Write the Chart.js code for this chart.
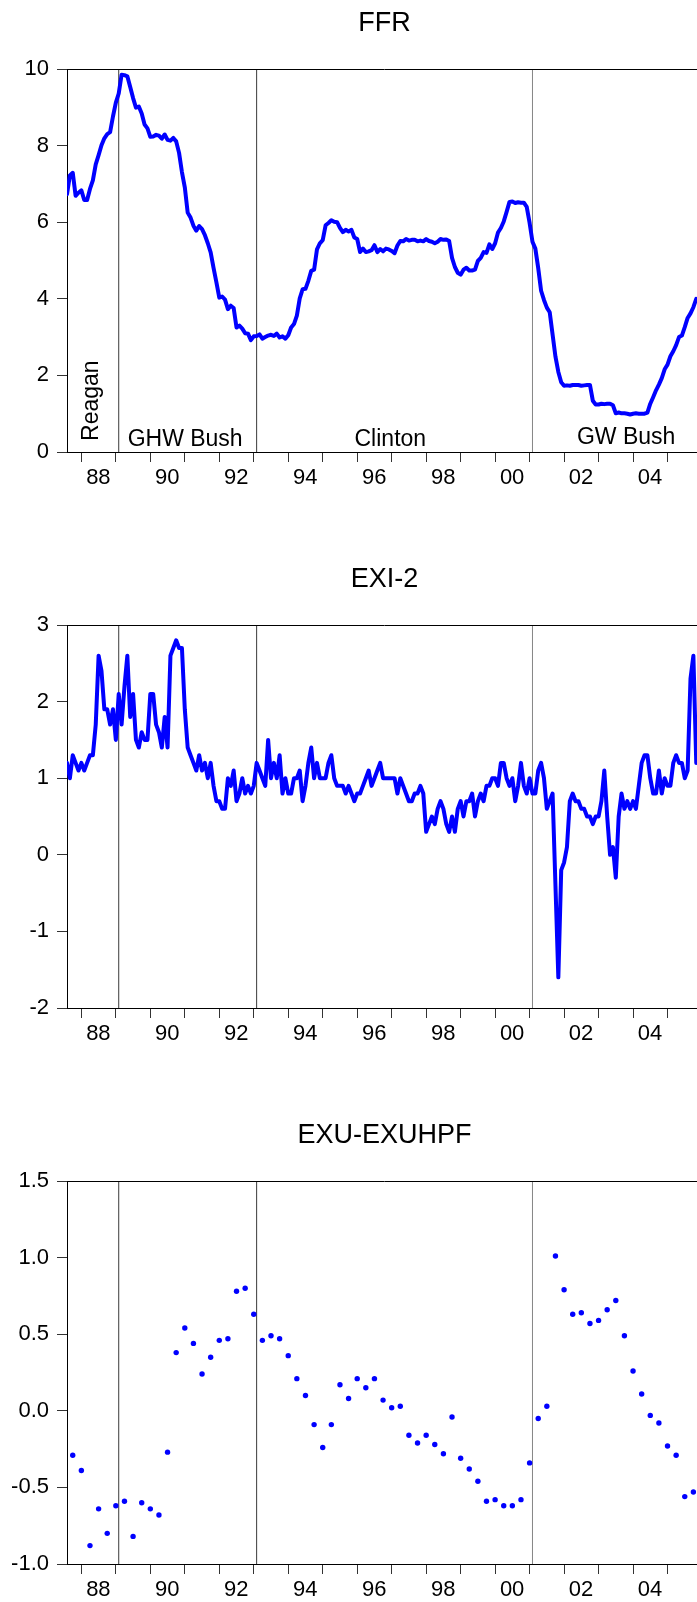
<!DOCTYPE html>
<html>
<head>
<meta charset="utf-8">
<script src="https://cdn.jsdelivr.net/npm/chart.js@4.4.0/dist/chart.umd.min.js"></script>
<style>
  html, body { margin: 0; padding: 0; background: #fff; width: 697px; height: 1602px; overflow: hidden; }
  .panel { position: relative; width: 697px; overflow: hidden; }
  .panel h2 {
    position: absolute; left: 67px; width: 635px; top: 6px; margin: 0;
    font: normal 27px/32px "Liberation Sans", Arial, sans-serif;
    text-align: center; color: #000;
  }
  canvas { display: block; }
</style>
</head>
<body>
<div class="panel" style="height:556px"><h2>FFR</h2><canvas id="ffr" width="712" height="556"></canvas></div>
<div class="panel" style="height:556px"><h2>EXI-2</h2><canvas id="exi" width="712" height="556"></canvas></div>
<div class="panel" style="height:490px"><h2>EXU-EXUHPF</h2><canvas id="exu" width="712" height="490"></canvas></div>
<script>
// monthly series start Aug 1987, quarterly series start 1987Q4
const START = 1987 + 7 / 12;
const END = 2006;            // Jan 2006, right edge of the frame
const Q_START = 1987.75;

const YEAR_TICKS = [1988, 1989, 1990, 1991, 1992, 1993, 1994, 1995, 1996,
                    1997, 1998, 1999, 2000, 2001, 2002, 2003, 2004, 2005];
// first month of each new administration
const PRESIDENT_CHANGES = [1989 + 1 / 12, 1993 + 1 / 12, 2001 + 1 / 12];
const CHANGE_COLORS = ['#3a3a3a', '#3a3a3a', '#858585'];
const ERA_NAMES = ['Reagan', 'GHW Bush', 'Clinton', 'GW Bush'];

const FFR_TICKS = [0, 2, 4, 6, 8, 10];
const EXI_TICKS = [-2, -1, 0, 1, 2, 3];
const EXU_TICKS = [-1, -0.5, 0, 0.5, 1, 1.5];

// Aug 1987 .. Nov 2005
const FFR = [
  6.73, 7.22, 7.29, 6.69, 6.77,
  6.83, 6.58, 6.58, 6.87, 7.09, 7.51, 7.75, 8.01, 8.19, 8.30, 8.35, 8.76,
  9.12, 9.36, 9.85, 9.84, 9.81, 9.53, 9.24, 8.99, 9.02, 8.84, 8.55, 8.45,
  8.23, 8.24, 8.28, 8.26, 8.18, 8.29, 8.15, 8.13, 8.20, 8.11, 7.81, 7.31,
  6.91, 6.25, 6.12, 5.91, 5.78, 5.90, 5.82, 5.66, 5.45, 5.21, 4.81, 4.43,
  4.03, 4.06, 3.98, 3.73, 3.82, 3.76, 3.25, 3.30, 3.22, 3.10, 3.09, 2.92,
  3.02, 3.03, 3.07, 2.96, 3.00, 3.04, 3.06, 3.03, 3.09, 2.99, 3.02, 2.96,
  3.05, 3.25, 3.34, 3.56, 4.01, 4.25, 4.26, 4.47, 4.73, 4.76, 5.29, 5.45,
  5.53, 5.92, 5.98, 6.05, 6.01, 6.00, 5.85, 5.74, 5.80, 5.76, 5.80, 5.60,
  5.56, 5.22, 5.31, 5.22, 5.24, 5.27, 5.40, 5.22, 5.30, 5.24, 5.31, 5.29,
  5.25, 5.19, 5.39, 5.51, 5.50, 5.56, 5.52, 5.54, 5.54, 5.50, 5.52, 5.50,
  5.56, 5.51, 5.49, 5.45, 5.49, 5.56, 5.54, 5.55, 5.51, 5.07, 4.83, 4.68,
  4.63, 4.76, 4.81, 4.74, 4.74, 4.76, 4.99, 5.07, 5.22, 5.20, 5.42, 5.30,
  5.45, 5.73, 5.85, 6.02, 6.27, 6.53, 6.54, 6.50, 6.52, 6.51, 6.51, 6.40,
  5.98, 5.49, 5.31, 4.80, 4.21, 3.97, 3.77, 3.65, 3.07, 2.49, 2.09, 1.82,
  1.73, 1.74, 1.73, 1.75, 1.75, 1.75, 1.73, 1.74, 1.75, 1.75, 1.34, 1.24,
  1.24, 1.26, 1.25, 1.26, 1.26, 1.22, 1.01, 1.03, 1.01, 1.01, 1.00, 0.98,
  1.00, 1.01, 1.00, 1.00, 1.00, 1.03, 1.26, 1.43, 1.61, 1.76, 1.93, 2.16,
  2.28, 2.50, 2.63, 2.79, 3.00, 3.04, 3.26, 3.50, 3.62, 3.78, 4.00
];

// Aug 1987 .. Nov 2005
const EXI2 = [
  1.2, 1.0, 1.3, 1.2, 1.1, 1.2, 1.1, 1.2, 1.3, 1.3,
  1.7, 2.6, 2.4, 1.9, 1.9, 1.7, 1.9, 1.5, 2.1, 1.7,
  2.2, 2.6, 1.8, 2.1, 1.5, 1.4, 1.6, 1.5, 1.5, 2.1,
  2.1, 1.7, 1.6, 1.4, 1.8, 1.4, 2.6, 2.7, 2.8, 2.7,
  2.7, 1.9, 1.4, 1.3, 1.2, 1.1, 1.3, 1.1, 1.2, 1.0,
  1.2, 0.9, 0.7, 0.7, 0.6, 0.6, 1.0, 0.9, 1.1, 0.7,
  0.8, 1.0, 0.8, 0.9, 0.8, 0.9, 1.2, 1.1, 1.0, 0.9,
  1.5, 1.0, 1.2, 1.0, 1.3, 0.8, 1.0, 0.8, 0.8, 1.0,
  1.0, 1.1, 0.7, 0.9, 1.2, 1.4, 1.0, 1.2, 1.0, 1.0,
  1.0, 1.2, 1.3, 1.0, 0.9, 0.9, 0.9, 0.8, 0.9, 0.8,
  0.7, 0.8, 0.8, 0.9, 1.0, 1.1, 0.9, 1.0, 1.1, 1.2,
  1.0, 1.0, 1.0, 1.0, 1.0, 0.8, 1.0, 0.9, 0.8, 0.7,
  0.7, 0.8, 0.8, 0.9, 0.8, 0.3, 0.4, 0.5, 0.4, 0.6,
  0.7, 0.6, 0.4, 0.3, 0.5, 0.3, 0.6, 0.7, 0.5, 0.7,
  0.7, 0.8, 0.5, 0.7, 0.8, 0.7, 0.9, 0.9, 1.0, 1.0,
  0.9, 1.2, 1.2, 1.0, 0.9, 1.0, 0.7, 0.9, 1.2, 0.9,
  0.8, 1.0, 0.8, 0.8, 1.1, 1.2, 1.0, 0.6, 0.7, 0.8,
  -0.4, -1.6, -0.2, -0.1, 0.1, 0.7, 0.8, 0.7, 0.7, 0.6,
  0.6, 0.5, 0.5, 0.4, 0.5, 0.5, 0.7, 1.1, 0.5, 0.0,
  0.1, -0.3, 0.5, 0.8, 0.6, 0.7, 0.6, 0.7, 0.6, 0.9,
  1.2, 1.3, 1.3, 1.0, 0.8, 0.8, 1.1, 0.8, 1.0, 0.9,
  0.9, 1.2, 1.3, 1.2, 1.2, 1.0, 1.1, 2.3, 2.6, 1.2
];

// 1987Q4 .. 2005Q4
const EXU_GAP = [
  -0.29, -0.39, -0.88, -0.64, -0.80, -0.62, -0.59, -0.82, -0.60, -0.64,
  -0.68, -0.27, 0.38, 0.54, 0.44, 0.24, 0.35, 0.46, 0.47, 0.78,
  0.80, 0.63, 0.46, 0.49, 0.47, 0.36, 0.21, 0.10, -0.09, -0.24,
  -0.09, 0.17, 0.08, 0.21, 0.15, 0.21, 0.07, 0.02, 0.03, -0.16,
  -0.21, -0.16, -0.22, -0.28, -0.04, -0.31, -0.38, -0.46, -0.59, -0.58,
  -0.62, -0.62, -0.58, -0.34, -0.05, 0.03, 1.01, 0.79, 0.63, 0.64,
  0.57, 0.59, 0.66, 0.72, 0.49, 0.26, 0.11, -0.03, -0.08, -0.23,
  -0.29, -0.56, -0.53
];

const BLUE = '#0000ff';
const FONT = '"Liberation Sans", Arial, sans-serif';
Chart.defaults.font.family = FONT;
Chart.defaults.font.size = 22;
Chart.defaults.color = '#000';

const monthly = vals => vals.map((v, i) => ({ x: START + i / 12, y: v }));
const quarterly = vals => vals.map((v, i) => ({ x: Q_START + i / 4, y: v }));

function changeLines(ticks) {
  const lo = ticks[0], hi = ticks[ticks.length - 1];
  return PRESIDENT_CHANGES.map((t, i) => ({
    data: [{ x: t, y: lo }, { x: t, y: hi }],
    borderColor: CHANGE_COLORS[i],
    borderWidth: 1,
    pointRadius: 0,
    order: 5
  }));
}

// top edge of the frame
const frameTop = {
  id: 'frameTop',
  afterDraw(chart) {
    const { ctx, chartArea: a } = chart;
    ctx.save();
    ctx.strokeStyle = '#000';
    ctx.lineWidth = 1;
    ctx.beginPath();
    ctx.moveTo(a.left, a.top + 0.5);
    ctx.lineTo(a.right, a.top + 0.5);
    ctx.stroke();
    ctx.restore();
  }
};

// president names, placed in data coordinates
const eraText = {
  id: 'eraText',
  afterDatasetsDraw(chart, args, opts) {
    if (!opts.items || !opts.items.length) return;
    const { ctx, scales: { x, y } } = chart;
    ctx.save();
    ctx.fillStyle = '#000';
    ctx.font = '23px ' + FONT;
    ctx.textAlign = 'center';
    opts.items.forEach(it => {
      ctx.save();
      ctx.translate(x.getPixelForValue(it.x), y.getPixelForValue(it.y));
      if (it.rotate) {
        ctx.rotate(-Math.PI / 2);
        ctx.textBaseline = 'middle';
      } else {
        ctx.textBaseline = 'alphabetic';
      }
      ctx.fillText(it.text, 0, 0);
      ctx.restore();
    });
    ctx.restore();
  }
};

function makeChart(id, datasets, yTicks, fmt, xAxisHeight, eras) {
  return new Chart(document.getElementById(id), {
    type: 'line',
    data: { datasets },
    plugins: [frameTop, eraText],
    options: {
      responsive: false,
      animation: false,
      devicePixelRatio: 1,
      layout: { padding: { top: 69, right: 10, left: 0, bottom: 0 } },
      plugins: {
        legend: { display: false },
        tooltip: { enabled: false },
        eraText: { items: eras }
      },
      scales: {
        x: {
          type: 'linear',
          min: START,
          max: END,
          afterBuildTicks: s => { s.ticks = YEAR_TICKS.map(v => ({ value: v })); },
          afterFit: s => { s.height = xAxisHeight; },
          grid: { drawOnChartArea: false, tickLength: 10, color: '#333' },
          border: { display: true, color: '#000', width: 1 },
          ticks: {
            autoSkip: false, maxRotation: 0, minRotation: 0,
            padding: 3, labelOffset: 17,
            callback: v => (v % 2 === 0 ? String(v % 100).padStart(2, '0') : '')
          }
        },
        y: {
          min: yTicks[0],
          max: yTicks[yTicks.length - 1],
          afterBuildTicks: s => { s.ticks = yTicks.map(v => ({ value: v })); },
          afterFit: s => { s.width = 67; },
          grid: { drawOnChartArea: false, tickLength: 10, color: '#333' },
          border: { display: true, color: '#000', width: 1 },
          ticks: { padding: 8, callback: fmt }
        }
      }
    }
  });
}

const lineStyle = {
  borderColor: BLUE, borderWidth: 4, pointRadius: 0, tension: 0,
  borderJoinStyle: 'round', borderCapStyle: 'round', order: 1
};

makeChart('ffr',
  [{ ...lineStyle, data: monthly(FFR) }, ...changeLines(FFR_TICKS)],
  FFR_TICKS, v => String(v), 104,
  [
    { text: ERA_NAMES[0], x: 1988.29, y: 1.34, rotate: true },
    { text: ERA_NAMES[1], x: 1991.01, y: 0.15 },
    { text: ERA_NAMES[2], x: 1996.96, y: 0.15 },
    { text: ERA_NAMES[3], x: 2003.80, y: 0.22 }
  ]);

makeChart('exi',
  [{ ...lineStyle, data: monthly(EXI2) }, ...changeLines(EXI_TICKS)],
  EXI_TICKS, v => String(v), 104, []);

makeChart('exu',
  [{
    data: quarterly(EXU_GAP), showLine: false,
    pointRadius: 2.7, pointBorderWidth: 0,
    pointBackgroundColor: BLUE, borderColor: BLUE, order: 1
  }, ...changeLines(EXU_TICKS)],
  EXU_TICKS, v => v.toFixed(1), 38, []);
</script>
</body>
</html>
